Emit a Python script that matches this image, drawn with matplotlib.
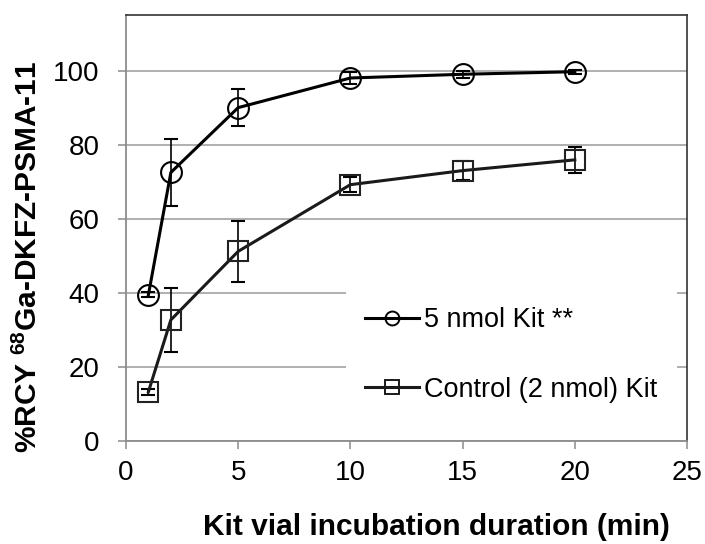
import matplotlib
matplotlib.use("Agg")
import matplotlib.pyplot as plt
from matplotlib.lines import Line2D

plt.rcParams["font.family"] = ["Liberation Sans", "DejaVu Sans"]
plt.rcParams["mathtext.default"] = "regular"

# ----------------------------
# Data
# ----------------------------
timeMin = [1, 2, 5, 10, 15, 20]

kit5Rcy = [39.5, 72.5, 90.0, 98.0, 99.0, 99.7]
kit5Err = [0.6, 9.0, 5.0, 1.5, 1.0, 0.5]

controlRcy = [13.3, 32.7, 51.2, 69.2, 73.0, 75.9]
controlErr = [0.8, 8.7, 8.3, 2.0, 2.5, 3.5]

seriesLabels = ["5 nmol Kit **", "Control (2 nmol) Kit"]
xTicks = [0, 5, 10, 15, 20, 25]
yTicks = [0, 20, 40, 60, 80, 100]

gridGrey = "#9a9a9a"

fig = plt.figure(figsize=(7.05, 5.44), dpi=100)
ax = fig.add_axes([0.1787, 0.1893, 0.7958, 0.7831])

ax.errorbar(timeMin, kit5Rcy, yerr=kit5Err, color="black", linewidth=2.2,
            marker="o", markersize=15, markerfacecolor="none",
            markeredgewidth=1.5, markeredgecolor="black",
            ecolor="black", elinewidth=1.2, capsize=5, capthick=1.2, zorder=3)
ax.errorbar(timeMin, controlRcy, yerr=controlErr, color="#1a1a1a", linewidth=2.2,
            marker="s", markersize=15, markerfacecolor="none",
            markeredgewidth=1.5, markeredgecolor="#222222",
            ecolor="black", elinewidth=1.2, capsize=5, capthick=1.2, zorder=3)

ax.set_xlim(0, 25)
ax.set_ylim(0, 115)
ax.set_xticks(xTicks)
ax.set_yticks(yTicks)
ax.yaxis.grid(True, color=gridGrey, linewidth=1.1)
ax.set_axisbelow(True)

for side in ["left", "bottom"]:
    ax.spines[side].set_color("#8c8c8c")
    ax.spines[side].set_linewidth(1.3)
for side in ["top", "right"]:
    ax.spines[side].set_color("#333333")
    ax.spines[side].set_linewidth(1.2)

ax.tick_params(axis="both", direction="out", length=6, width=1.1,
               color="#8c8c8c", labelsize=20, labelcolor="black")
ax.tick_params(axis="y", pad=13)
ax.tick_params(axis="x", pad=8)

ax.set_xlabel("Kit vial incubation duration (min)", fontsize=21.5,
              fontweight="bold")
ax.set_ylabel("%RCY $^{68}$Ga-DKFZ-PSMA-11", fontsize=21.5,
              fontweight="bold")
ax.xaxis.set_label_coords(0.553, -0.170)
ax.yaxis.set_label_coords(-0.148, 0.432)

handles = [
    Line2D([], [], color="black", linewidth=2.2, marker="o", markersize=10,
           markerfacecolor="none", markeredgewidth=1.4),
    Line2D([], [], color="#1a1a1a", linewidth=2.2, marker="s", markersize=10,
           markerfacecolor="none", markeredgewidth=1.4),
]
leg = ax.legend(handles, seriesLabels, loc="center left",
                bbox_to_anchor=(0.392, 0.202), borderaxespad=0,
                fontsize=19.5, frameon=True, facecolor="white",
                edgecolor="none", framealpha=1, fancybox=False,
                borderpad=0.7, labelspacing=1.6, handlelength=2.0,
                handletextpad=0.2)
leg.set_zorder(2)

fig.savefig("out.png", dpi=100)
